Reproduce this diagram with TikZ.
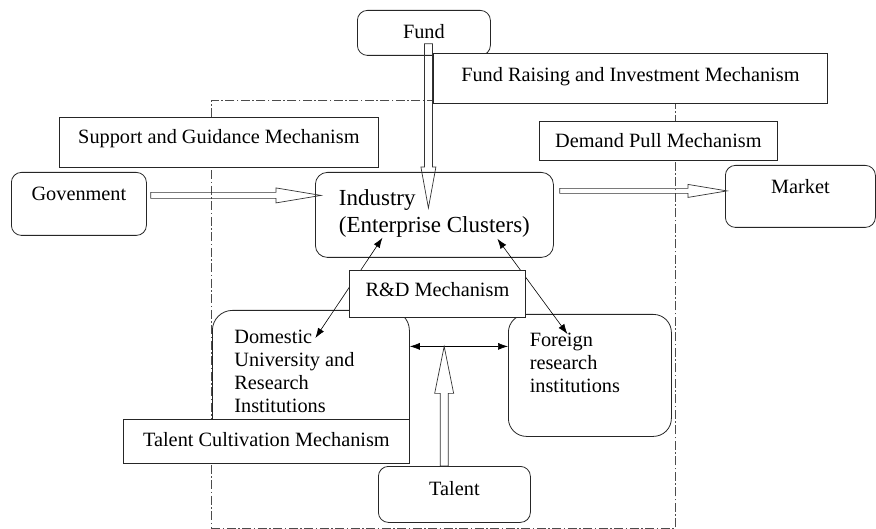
\documentclass[tikz,border=0pt]{standalone}
\usepackage{fontspec}
\setmainfont{Liberation Serif}
\usetikzlibrary{arrows.meta,calc}

\newcommand{\textlines}[2][0pt]{\begin{tabular}[t]{@{}l@{\hspace{#1}}}#2\end{tabular}}

\tikzset{
  mechbox/.style={
    rectangle, draw=black!85, fill=white, line width=0.8pt,
    inner sep=0pt, anchor=north west,
    font=\fontsize{20.3}{23}\selectfont
  },
  unitbox/.style={mechbox, rounded corners=#1},
  unitbox/.default=10pt,
  regionbox/.style={draw=black!70, line width=0.7pt,
    dash pattern=on 9pt off 2.5pt on 1.5pt off 2.5pt,
    inner sep=0pt, anchor=north west},
  linkarrow/.style={
    {Latex[length=10pt,width=7pt]}-{Latex[length=10pt,width=7pt]},
    line width=0.6pt, draw=black
  },
  fatarrow/.style n args={3}{draw=black!80, line width=0.7pt,
    to path={
      let \p1=(\tikztostart), \p2=(\tikztotarget),
          \p3=($(\p2)!#3!(\p1)$) in
      ($(\p1)!#1!90:(\p2)$) -- ($(\p3)!#1!-90:(\p1)$) -- ($(\p3)!#2!-90:(\p1)$)
      -- (\p2) -- ($(\p3)!#2!90:(\p1)$) -- ($(\p3)!#1!90:(\p1)$)
      -- ($(\p1)!#1!-90:(\p2)$) -- cycle
    }},
}

\begin{document}
\begin{tikzpicture}[x=1pt, y=-1pt]
  \useasboundingbox (0,0) rectangle (876,529);
  % mechanism region
  \node[regionbox, minimum width=464pt, minimum height=428pt] (region) at (211,100) {};
  % boxes
  \node[unitbox, minimum width=133pt, minimum height=45pt, text height=15pt, text depth=4.6pt] (fund) at (357,10) {Fund};
  \node[mechbox, minimum width=394pt, minimum height=50pt, text height=15pt, text depth=9pt] (fundmech) at (433,53) {Fund Raising and Investment Mechanism};
  \node[mechbox, minimum width=319pt, minimum height=50pt, text height=15pt, text depth=13pt] (support) at (59,117) {Support and Guidance Mechanism};
  \node[unitbox, minimum width=135pt, minimum height=63pt, text height=15pt, text depth=22pt] (gov) at (11,172) {Govenment};
  \node[unitbox=12pt, minimum width=238pt, minimum height=85pt, text height=18pt, text depth=37pt,
        font=\fontsize{23}{27}\selectfont] (industry) at (315,172) {\textlines{Industry\\(Enterprise Clusters)}};
  \node[mechbox, minimum width=238pt, minimum height=39pt, text height=15pt, text depth=1pt] (demand) at (539,121) {Demand Pull Mechanism};
  \node[unitbox, minimum width=150pt, minimum height=62pt, text height=15pt, text depth=21pt] (market) at (725,165) {Market};
  \node[unitbox=20pt, minimum width=197pt, minimum height=135pt, text height=15pt, text depth=84pt] (domestic) at (212,310)
    {\textlines[33pt]{Domestic\\University and\\Research\\Institutions}};
  \node[unitbox=18pt, minimum width=163pt, minimum height=122pt, text height=15pt, text depth=73pt] (foreign) at (508,314)
    {\textlines[30pt]{Foreign\\research\\institutions}};
  \node[mechbox, minimum width=286pt, minimum height=44pt, text height=15pt, text depth=5pt] (talentmech) at (123,419) {Talent Cultivation Mechanism};
  \node[unitbox, minimum width=152pt, minimum height=56pt, text height=15pt, text depth=13pt] (talent) at (378,466) {Talent};
  % hollow arrows
  \draw[fatarrow={3pt}{7.5pt}{45pt}] ([shift={(4pt,8.5pt)}]gov.east) to ([shift={(6pt,19.5pt)}]industry.west);
  \draw[fatarrow={2.5pt}{6.5pt}{39pt}] ([shift={(6pt,24pt)}]industry.east) to ([shift={(2pt,5.5pt)}]market.west);
  \draw[fatarrow={4pt}{7.5pt}{41pt}] ([shift={(4.5pt,12pt)}]fund.south) to ([shift={(-6pt,-36pt)}]industry.north);
  \path ([yshift=31.5pt]domestic.east) -- ([yshift=29pt]foreign.west) coordinate[pos=0.35] (link);
  \draw[linkarrow] ([yshift=31.5pt]domestic.east) -- ([yshift=29pt]foreign.west);
  \draw[fatarrow={4pt}{9.5pt}{47pt}] (talent.north -| link) to (link);
  % R&D links
  \draw[linkarrow] ([shift={(-52pt,20pt)}]industry.south) -- ([shift={(4.5pt,-28pt)}]domestic.north);
  \draw[linkarrow] ([shift={(63pt,19pt)}]industry.south) -- ([shift={(-22.5pt,-20pt)}]foreign.north);
  \node[mechbox, minimum width=176pt, minimum height=47pt, text height=15pt, text depth=10pt] (rd) at (349,270) {R\&D Mechanism};
\end{tikzpicture}
\end{document}
